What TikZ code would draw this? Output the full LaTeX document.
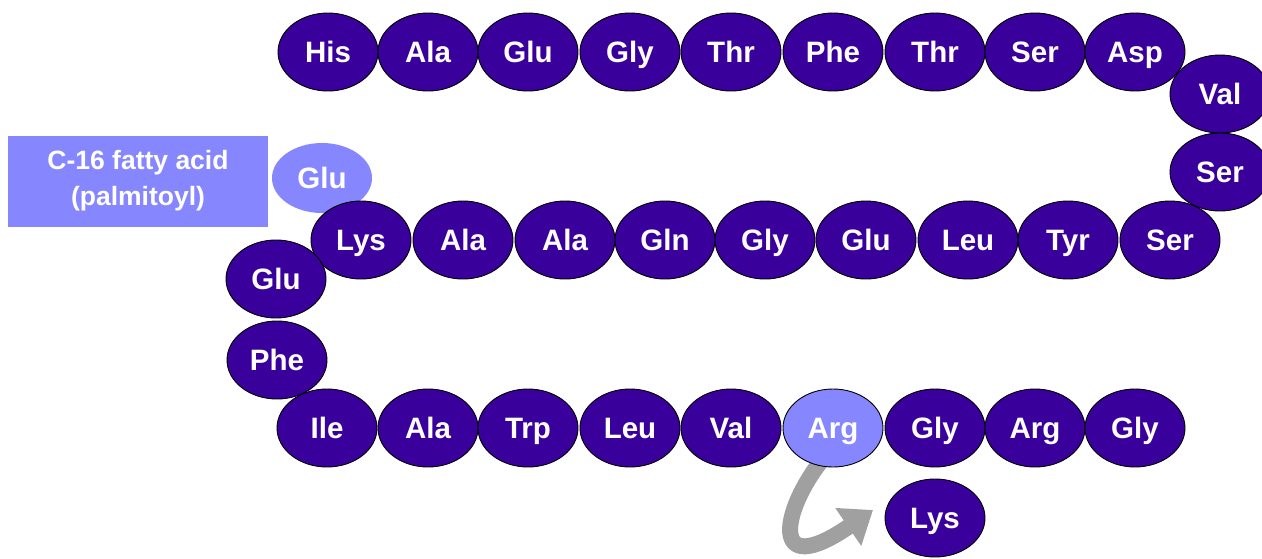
\documentclass[tikz,border=0pt]{standalone}
\usepackage{fontspec}
\setmainfont{Liberation Sans}
\usetikzlibrary{shapes.geometric,arrows.meta}
\definecolor{aadark}{RGB}{58,0,155}
\definecolor{aalight}{RGB}{134,134,255}
\definecolor{arrowgray}{RGB}{160,160,160}
\tikzset{
  aa/.style={ellipse, draw=black, line width=0.9pt, fill=aadark, text=white,
    minimum width=100pt, minimum height=78pt, inner sep=0pt,
    text height=21pt, text depth=0pt,
    font=\fontsize{29.5}{32}\selectfont\bfseries},
  aahi/.style={aa, fill=aalight},
  fabox/.style={rectangle, fill=aalight, text=white, align=center,
    minimum width=260pt, minimum height=91pt, inner sep=0pt,
    font=\fontsize{26.5}{36}\selectfont\bfseries},
  turnarrow/.style={draw=arrowgray, line width=16pt,
    -{Triangle[length=30pt,width=44pt]}}
}
\begin{document}
\begin{tikzpicture}[x=1pt,y=-1pt]
\useasboundingbox (0,0) rectangle (1262,558);
% fatty acid box
\node[fabox] (fa) at (138,181) {C-16 fatty acid\\(palmitoyl)};
% modified Glu
\node[aahi, draw=none, minimum height=70pt] (g0) at (322,178) {Glu};
% arrow from Arg toward Lys (drawn under the ellipses)
\coordinate (tip) at (873,510);
\coordinate (argfoot) at (822,460);
\draw[turnarrow] (argfoot) .. controls (782,510) and (768,582) .. (tip);
% top row
\node[aa] (t1) at (328,52) {His};
\node[aa] (t2) at (428,52) {Ala};
\node[aa] (t3) at (528,52) {Glu};
\node[aa] (t4) at (630,52) {Gly};
\node[aa] (t5) at (731,52) {Thr};
\node[aa] (t6) at (833,52) {Phe};
\node[aa] (t7) at (935,52) {Thr};
\node[aa] (t8) at (1035,52) {Ser};
\node[aa] (t9) at (1135,52) {Asp};
% right turn
\node[aa] (r1) at (1220,94) {Val};
\node[aa] (r2) at (1220,172) {Ser};
% middle row
\node[aa] (m9) at (1170,240) {Ser};
\node[aa] (m8) at (1068,240) {Tyr};
\node[aa] (m7) at (968,240) {Leu};
\node[aa] (m6) at (866,240) {Glu};
\node[aa] (m5) at (765,240) {Gly};
\node[aa] (m4) at (665,240) {Gln};
\node[aa] (m3) at (565,240) {Ala};
\node[aa] (m2) at (463,240) {Ala};
\node[aa] (m1) at (361,240) {Lys};
% left turn
\node[aa] (l1) at (276,279) {Glu};
\node[aa] (l2) at (277,360) {Phe};
% bottom row
\node[aa] (b1) at (327,428) {Ile};
\node[aa] (b2) at (428,428) {Ala};
\node[aa] (b3) at (528,428) {Trp};
\node[aa] (b4) at (630,428) {Leu};
\node[aa] (b5) at (731,428) {Val};
\node[aahi] (b6) at (833,428) {Arg};
\node[aa] (b7) at (935,428) {Gly};
\node[aa] (b8) at (1035,428) {Arg};
\node[aa] (b9) at (1135,428) {Gly};
% replacement residue
\node[aa] (lys) at (935,518) {Lys};
\end{tikzpicture}
\end{document}
